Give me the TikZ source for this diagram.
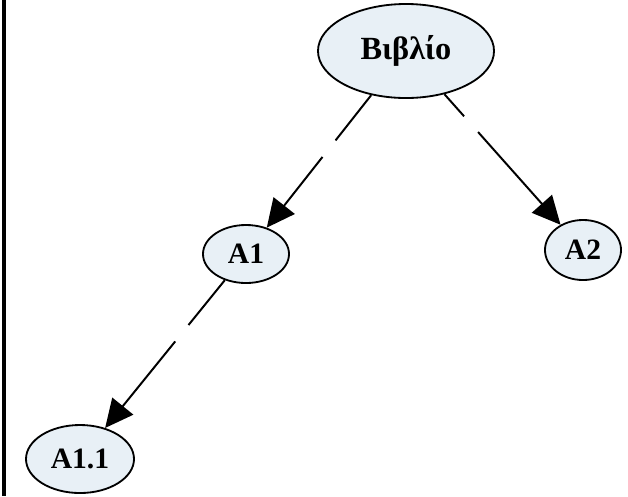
\documentclass[tikz,border=0pt]{standalone}
\usepackage{fontspec}
\setmainfont{Liberation Serif}
\usetikzlibrary{shapes.geometric,arrows.meta}
\definecolor{topicfill}{RGB}{232,240,246}

\begin{document}
\begin{tikzpicture}[x=0.025cm,y=-0.025cm,
    topic/.style={ellipse,draw,line width=1.3pt,fill=topicfill,inner sep=0pt,
        font=\bfseries\fontsize{21}{24}\selectfont},
    link/.style={-{Triangle[length=20pt,width=19pt]},line width=1.4pt,
        dash pattern=on 41pt off 15pt on 300pt off 15pt}]
    \useasboundingbox (0,0) rectangle (628,496);
    \draw[line width=2.2pt] (4,0)--(4,496);
    \node[topic,minimum width=4.4cm,minimum height=2.35cm,
        font=\bfseries\fontsize{23}{26}\selectfont] (book) at (406,51){Βιβλίο};
    \node[topic,minimum width=2.15cm,minimum height=1.45cm] (a1) at (246,254){A1};
    \node[topic,minimum width=1.9cm,minimum height=1.5cm] (a2) at (583,250){A2};
    \node[topic,minimum width=2.7cm,minimum height=1.7cm] (a11) at (80,459){A1.1};
    \draw[link] (book)--(a1);
    \draw[link,dash phase=20pt] (book)--(a2);
    \draw[link] (a1)--(a11);
\end{tikzpicture}
\end{document}
